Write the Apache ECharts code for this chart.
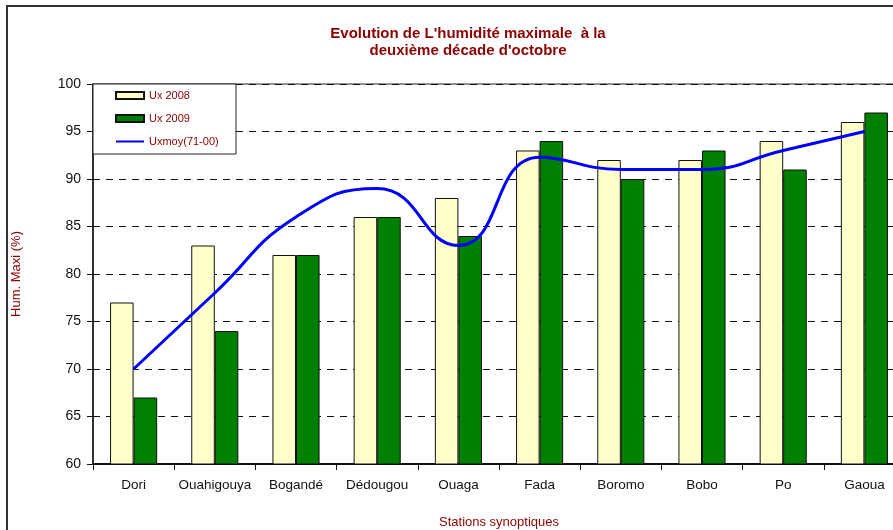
<!DOCTYPE html>
<html><head><meta charset="utf-8">
<script src="https://cdn.jsdelivr.net/npm/echarts@6/dist/echarts.min.js"></script>
<style>html,body{margin:0;padding:0;background:#fff}#c{width:893px;height:530px}</style>
</head><body><div id="c"></div>
<script>
const stations = ['Dori','Ouahigouya','Bogandé','Dédougou','Ouaga','Fada','Boromo','Bobo','Po','Gaoua'];
const ux2008 = [77, 83, 82, 86, 88, 93, 92, 92, 94, 96];
const ux2009 = [67, 74, 82, 86, 84, 94, 90, 93, 91, 97];
const uxMoy = [70, 78, 86, 89, 83, 92.3, 91, 91, 93, 95];

const darkRed = '#8B0000';
const chart = echarts.init(document.getElementById('c'));
chart.setOption({
  animation: false,
  backgroundColor: '#fff',
  title: {
    text: "Evolution de L'humidité maximale  à la\ndeuxième décade d'octobre",
    left: 463, top: 20, textAlign: 'center',
    textStyle: {color: darkRed, fontFamily: 'Liberation Sans, Arial, sans-serif', fontWeight: 'bold', fontSize: 15, lineHeight: 17}
  },
  legend: {
    orient: 'vertical', left: 110, top: 85, itemWidth: 28, itemHeight: 7, itemGap: 12,
    textStyle: {color: darkRed, fontFamily: 'Liberation Sans, Arial, sans-serif', fontSize: 11},
    data: [
      {name: 'Ux 2008', icon: 'rect'},
      {name: 'Ux 2009', icon: 'rect'},
      {name: 'Uxmoy(71-00)', itemStyle: {opacity: 0}}
    ],
    z: 10
  },
  graphic: [
    {type: 'rect', shape: {x: 93, y: 84, width: 143, height: 70}, style: {fill: '#fff', stroke: '#222', lineWidth: 1}, z: 5},
    {type: 'rect', shape: {x: 7, y: 6, width: 920, height: 560}, style: {fill: 'none', stroke: '#333', lineWidth: 2}, z: 20, silent: true}
  ],
  grid: {left: 93, top: 84, width: 812, height: 380, show: true, borderColor: '#222', borderWidth: 1, containLabel: false, outerBoundsMode: 'none'},
  xAxis: {
    type: 'category', data: stations, boundaryGap: true,
    name: 'Stations synoptiques', nameLocation: 'middle', nameGap: 52,
    nameTextStyle: {color: darkRed, fontSize: 13, fontFamily: 'Liberation Sans, Arial, sans-serif'},
    axisLine: {lineStyle: {color: '#111', width: 2}},
    axisTick: {show: true, interval: 0, length: 6, lineStyle: {color: '#111'}},
    axisLabel: {color: '#111', fontSize: 13.5, margin: 14, interval: 0, fontFamily: 'Liberation Sans, Arial, sans-serif'}
  },
  yAxis: {
    type: 'value', min: 60, max: 100, interval: 5,
    name: 'Hum. Maxi (%)', nameLocation: 'middle', nameGap: 70, nameRotate: 90,
    nameTextStyle: {color: darkRed, fontSize: 13, fontFamily: 'Liberation Sans, Arial, sans-serif'},
    axisLine: {show: true, lineStyle: {color: '#111', width: 1.5}},
    axisTick: {show: true, inside: false, length: 6, lineStyle: {color: '#111'}},
    axisLabel: {color: '#111', fontSize: 14, margin: 12, fontFamily: 'Liberation Sans, Arial, sans-serif'},
    splitLine: {show: true, lineStyle: {color: '#111', type: [7, 6], width: 1}}
  },
  series: [
    {name: 'Ux 2008', type: 'bar', data: ux2008, barGap: '0%', barCategoryGap: '42%',
     itemStyle: {color: '#FFFFCC', borderColor: '#111', borderWidth: 1}},
    {name: 'Ux 2009', type: 'bar', data: ux2009, barGap: '0%', barCategoryGap: '42%',
     itemStyle: {color: '#008000', borderColor: '#111', borderWidth: 1}},
    {name: 'Uxmoy(71-00)', type: 'line', data: uxMoy, smooth: 0.5, symbol: 'none', z: 4,
     lineStyle: {color: '#0000FF', width: 3}, itemStyle: {color: '#0000FF'}}
  ]
});
</script></body></html>
